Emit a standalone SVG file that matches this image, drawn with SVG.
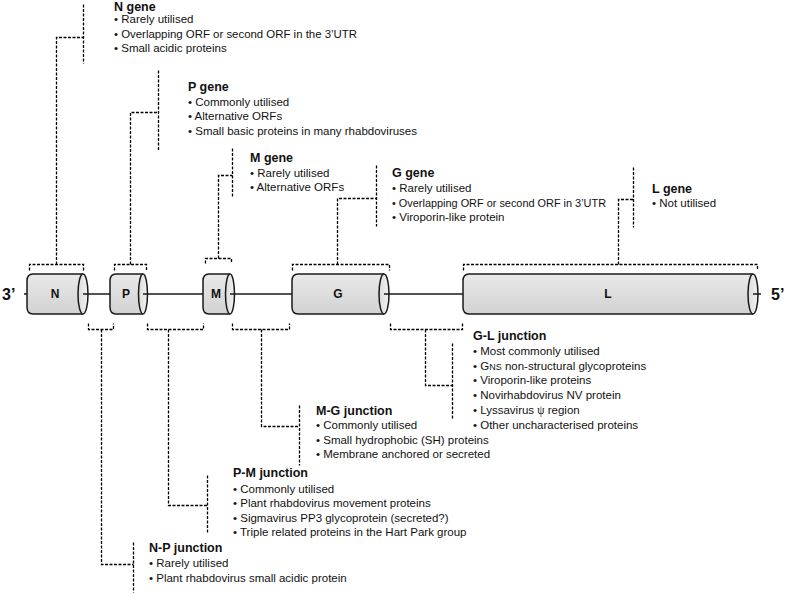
<svg xmlns="http://www.w3.org/2000/svg" width="790" height="593" viewBox="0 0 790 593">
<defs>
<linearGradient id="body" x1="0" y1="0" x2="0" y2="1">
<stop offset="0" stop-color="#e9e9e9"/>
<stop offset="1" stop-color="#d2d2d2"/>
</linearGradient>
<linearGradient id="cap" x1="0" y1="0" x2="1" y2="0">
<stop offset="0" stop-color="#dcdcdc"/>
<stop offset="1" stop-color="#f2f2f2"/>
</linearGradient>
</defs>
<style>
.body{fill:url(#body);stroke:#1a1a1a;stroke-width:1.5}
.cap{fill:url(#cap);stroke:#1a1a1a;stroke-width:1.5}
.gl{stroke:#1a1a1a;stroke-width:1.5;fill:none}
.dash{stroke:#000;stroke-width:1.3;fill:none;stroke-dasharray:3 1.5}
.lbl{font-family:"Liberation Sans",Arial,sans-serif;font-weight:bold;font-size:12px;fill:#111;text-anchor:middle}
.end{font-family:"Liberation Sans",Arial,sans-serif;font-weight:bold;font-size:16px;fill:#111}
.t{font-family:"Liberation Sans",Arial,sans-serif;font-weight:bold;font-size:12.5px;fill:#111}
.b{font-family:"Liberation Sans",Arial,sans-serif;font-size:11.5px;fill:#111}
</style>
<rect width="790" height="593" fill="#fff"/>

<g id="genome">
<text class="end" x="2" y="300">3’</text>
<text class="end" x="771" y="300">5’</text>
</g>

<g id="N">
<path class="body" d="M83,274 H33 Q27,274 27,281 V307 Q27,314 33,314 H83"/>
<ellipse class="cap" cx="83" cy="294" rx="5" ry="20"/>
<text class="lbl" x="55" y="298">N</text>
</g>
<g id="P">
<path class="body" d="M143,274 H116 Q110,274 110,281 V307 Q110,314 116,314 H143"/>
<ellipse class="cap" cx="143" cy="294" rx="4.5" ry="20"/>
<text class="lbl" x="126" y="298">P</text>
</g>
<g id="M">
<path class="body" d="M230,274 H209 Q203,274 203,281 V307 Q203,314 209,314 H230"/>
<ellipse class="cap" cx="230" cy="294" rx="4.5" ry="20"/>
<text class="lbl" x="216" y="298">M</text>
</g>
<g id="G">
<path class="body" d="M384,274 H298 Q292,274 292,281 V307 Q292,314 298,314 H384"/>
<ellipse class="cap" cx="384" cy="294" rx="5" ry="20"/>
<text class="lbl" x="338" y="298">G</text>
</g>
<g id="L">
<path class="body" d="M753,274 H469 Q463,274 463,281 V307 Q463,314 469,314 H753"/>
<ellipse class="cap" cx="753" cy="294" rx="5" ry="20"/>
<text class="lbl" x="608" y="298">L</text>
</g>

<g id="connectors">
<path class="gl" d="M24,294 H27 M83,294 H110 M143,294 H203 M230,294 H292 M384,294 H463 M753,294 H761"/>
<g transform="translate(0.5,0.5)">
<!-- gene brackets -->
<path class="dash" d="M29,270 V264 H83 V270 M56,264 V37 H83 M83,4 V63"/>
<path class="dash" d="M114,270 V264 H146 V270 M130,264 V112 H158 M158,70 V150"/>
<path class="dash" d="M205,263 V258 H231 V263 M218,258 V175 H232 M232,148 V197"/>
<path class="dash" d="M292,270 V264 H389 V270 M337,264 V198 H376 M376,165 V226"/>
<path class="dash" d="M463,270 V264 H757 V270 M618,264 V199 H633 M633,167 V227"/>
<!-- junction brackets -->
<path class="dash" d="M88,323 V329 H113 V323 M101,329 V564 H133 M133,542 V592"/>
<path class="dash" d="M147,323 V329 H203 V323 M168,329 V505 H207 M207,475 V533"/>
<path class="dash" d="M232,323 V329 H289 V323 M261,329 V426 H299 M299,405 V465"/>
<path class="dash" d="M390,323 V329 H462 V323 M425,329 V385 H452 M452,343 V418"/>
</g>
</g>

<g id="Ngene">
<text class="t" x="114" y="10.5">N gene</text>
<text class="b" x="114" y="23">• Rarely utilised</text>
<text class="b" x="114" y="38" textLength="243" lengthAdjust="spacingAndGlyphs">• Overlapping ORF or second ORF in the 3’UTR</text>
<text class="b" x="114" y="52">• Small acidic proteins</text>
</g>
<g id="Pgene">
<text class="t" x="188" y="91">P gene</text>
<text class="b" x="188" y="106">• Commonly utilised</text>
<text class="b" x="188" y="120">• Alternative ORFs</text>
<text class="b" x="188" y="135">• Small basic proteins in many rhabdoviruses</text>
</g>
<g id="Mgene">
<text class="t" x="250" y="162">M gene</text>
<text class="b" x="250" y="177">• Rarely utilised</text>
<text class="b" x="250" y="191">• Alternative ORFs</text>
</g>
<g id="Ggene">
<text class="t" x="392" y="177">G gene</text>
<text class="b" x="392" y="192">• Rarely utilised</text>
<text class="b" x="392" y="207" textLength="214" lengthAdjust="spacingAndGlyphs">• Overlapping ORF or second ORF in 3’UTR</text>
<text class="b" x="392" y="221">• Viroporin-like protein</text>
</g>
<g id="Lgene">
<text class="t" x="652" y="193">L gene</text>
<text class="b" x="652" y="207">• Not utilised</text>
</g>
<g id="GLjunction">
<text class="t" x="473" y="340">G-L junction</text>
<text class="b" x="473" y="355">• Most commonly utilised</text>
<text class="b" x="473" y="370">• G<tspan font-size="9px">NS</tspan> non-structural glycoproteins</text>
<text class="b" x="473" y="384">• Viroporin-like proteins</text>
<text class="b" x="473" y="399">• Novirhabdovirus NV protein</text>
<text class="b" x="473" y="414">• Lyssavirus <tspan font-family="'Liberation Serif',serif">ψ</tspan> region</text>
<text class="b" x="473" y="429">• Other uncharacterised proteins</text>
</g>
<g id="MGjunction">
<text class="t" x="316" y="415">M-G junction</text>
<text class="b" x="316" y="429">• Commonly utilised</text>
<text class="b" x="316" y="444">• Small hydrophobic (SH) proteins</text>
<text class="b" x="316" y="458">• Membrane anchored or secreted</text>
</g>
<g id="PMjunction">
<text class="t" x="233" y="477">P-M junction</text>
<text class="b" x="233" y="493">• Commonly utilised</text>
<text class="b" x="233" y="507">• Plant  rhabdovirus movement proteins</text>
<text class="b" x="233" y="522">• Sigmavirus PP3 glycoprotein (secreted?)</text>
<text class="b" x="233" y="536">• Triple related proteins in the Hart Park group</text>
</g>
<g id="NPjunction">
<text class="t" x="149" y="552">N-P junction</text>
<text class="b" x="149" y="567">• Rarely utilised</text>
<text class="b" x="149" y="582">• Plant rhabdovirus small acidic protein</text>
</g>
</svg>
